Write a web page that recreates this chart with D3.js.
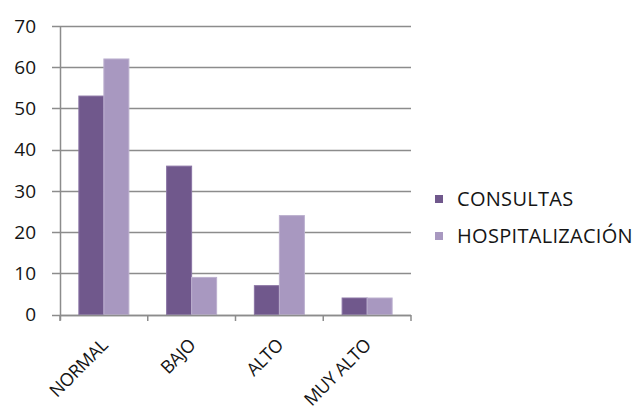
<!DOCTYPE html>
<html>
<head>
<meta charset="utf-8">
<script src="https://cdn.jsdelivr.net/npm/d3@7"></script>
<style>
  body { margin: 0; background: #fff; }
  text { font-family: "Open Sans", sans-serif; fill: #151515; }
</style>
</head>
<body>
<svg id="chart" width="634" height="416"></svg>
<script>
const categories = ["NORMAL", "BAJO", "ALTO", "MUY ALTO"];
const seriesNames = ["CONSULTAS", "HOSPITALIZACIÓN"];
const consultas = [53, 36, 7, 4];
const hospitalizacion = [62, 9, 24, 4];
const yTicks = [0, 10, 20, 30, 40, 50, 60, 70];
const colors = ["#70588c", "#a898c0"];

const rows = categories.map((c, i) => ({ cat: c, values: [consultas[i], hospitalizacion[i]] }));

const svg = d3.select("#chart");
const plot = { left: 60, right: 411, top: 26, bottom: 314.5 };

const x = d3.scaleBand().domain(categories).range([plot.left, plot.right]).paddingInner(0.43).paddingOuter(0.215);
const x1 = d3.scaleBand().domain(seriesNames).range([0, x.bandwidth()]);
const y = d3.scaleLinear().domain([0, 70]).range([plot.bottom, plot.top]);

// gridlines
svg.append("g")
  .selectAll("line")
  .data(yTicks)
  .join("line")
  .attr("x1", plot.left - 8)
  .attr("x2", plot.right)
  .attr("y1", d => Math.round(y(d)) + 0.5)
  .attr("y2", d => Math.round(y(d)) + 0.5)
  .attr("stroke", "#8c8c8c")
  .attr("stroke-width", 1.5);

// y labels
svg.append("g")
  .selectAll("text")
  .data(yTicks)
  .join("text")
  .attr("x", 36)
  .attr("y", d => y(d))
  .attr("dy", "0.36em")
  .attr("text-anchor", "end")
  .style("font-size", "19px")
  .text(d => d);

// bars
svg.append("g")
  .selectAll("g")
  .data(rows)
  .join("g")
  .attr("transform", d => `translate(${x(d.cat)},0)`)
  .selectAll("rect")
  .data(d => d.values.map((v, i) => ({ key: seriesNames[i], v: v, i: i })))
  .join("rect")
  .attr("x", d => x1(d.key))
  .attr("y", d => y(d.v))
  .attr("width", x1.bandwidth())
  .attr("height", d => y(0) - y(d.v))
  .attr("fill", d => colors[d.i])
  .attr("stroke", d => d.i === 0 ? "#8a74a4" : "#bcb0cf")
  .attr("stroke-width", 1);

// y axis line
svg.append("line")
  .attr("x1", plot.left + 0.5).attr("x2", plot.left + 0.5)
  .attr("y1", plot.top).attr("y2", plot.bottom + 6)
  .attr("stroke", "#8c8c8c").attr("stroke-width", 1.5);

// x axis
const xAxis = g => g
  .attr("transform", `translate(0,${Math.round(plot.bottom) + 0.5})`)
  .call(d3.axisBottom(x).tickSize(0).tickFormat(""))
  .call(g => g.select(".domain").attr("stroke", "#8c8c8c").attr("stroke-width", 1.5).attr("d", `M${plot.left},0H${plot.right}`));
svg.append("g").call(xAxis);

const boundaries = categories.map(c => x(c) - x.step() * x.paddingInner() / 2).concat([plot.right]);
svg.append("g")
  .selectAll("line")
  .data(boundaries)
  .join("line")
  .attr("x1", d => d).attr("x2", d => d)
  .attr("y1", Math.round(plot.bottom)).attr("y2", Math.round(plot.bottom) + 6)
  .attr("stroke", "#8c8c8c").attr("stroke-width", 1.5);

// category labels
svg.append("g")
  .selectAll("text")
  .data(categories)
  .join("text")
  .attr("transform", d => `translate(${x(d) + x.bandwidth() / 2 + 5},${plot.bottom + 32}) rotate(-45)`)
  .attr("text-anchor", "end")
  .style("font-size", "18px")
  .style("letter-spacing", "-0.4px")
  .text(d => d);

// legend
const legend = svg.append("g")
  .selectAll("g")
  .data(seriesNames)
  .join("g")
  .attr("transform", (d, i) => `translate(435,${199 + i * 37})`);
legend.append("rect")
  .attr("x", 0).attr("y", -4)
  .attr("width", 8).attr("height", 8)
  .attr("fill", (d, i) => colors[i]);
legend.append("text")
  .attr("x", 22)
  .attr("dy", "0.36em")
  .style("font-size", "20px")
  .style("letter-spacing", "0.3px")
  .text(d => d);
</script>
</body>
</html>
